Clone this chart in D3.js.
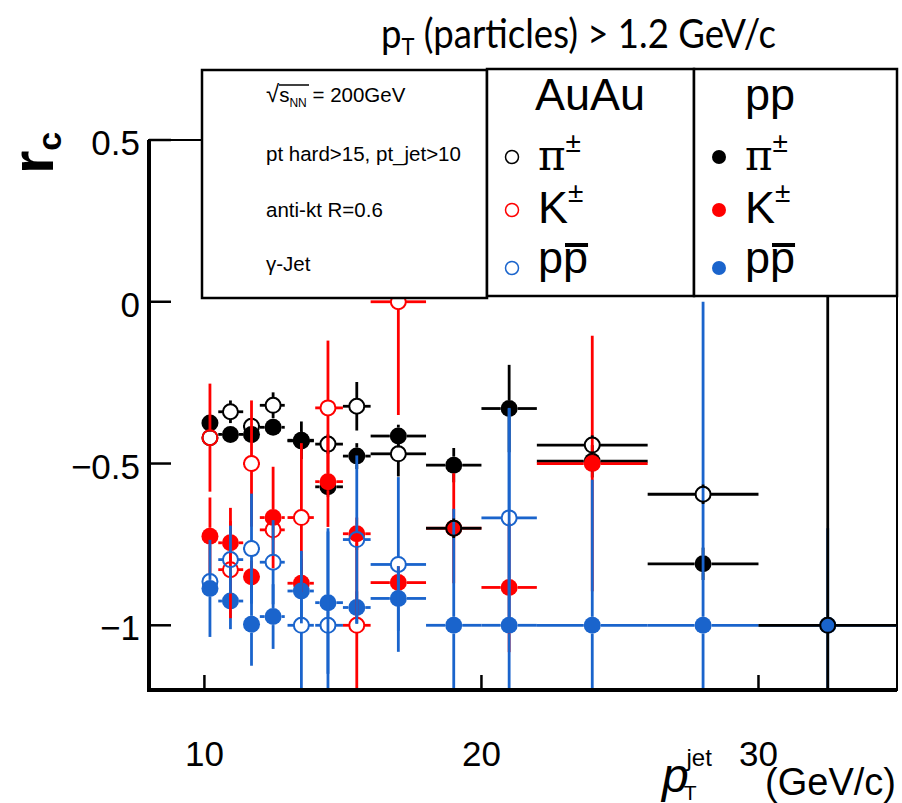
<!DOCTYPE html>
<html><head><meta charset="utf-8">
<script src="https://cdn.jsdelivr.net/npm/d3@7"></script>
<style>body{margin:0;background:#fff}</style>
</head><body><svg id="c" width="902" height="803"></svg>
<script>
// ---- data ----
const binX  = [10.2, 10.94, 11.7, 12.48, 13.5, 14.46, 15.5, 17, 19, 21, 24, 28, 32.5];
const binLo = [10.0, 10.5, 11.4, 12.0, 13.0, 14.0, 15.0, 16, 18, 20, 22, 26, 30];
const binHi = [10.4, 11.4, 12.0, 12.9, 13.95, 15.0, 16.0, 18, 20, 22, 26, 30, 35];

const ppPi    = [-0.375, -0.41, -0.41, -0.388, -0.428, -0.572, -0.477, -0.415, -0.505, -0.33, -0.493, -0.81, null];
const ppPiErr = [0.02, 0.02, 0.02, 0.02, 0.058, 0.03, 0.04, 0.035, 0.053, 0.135, 0.05, 0.05, null];
const ppK     = [-0.725, -0.745, -0.85, -0.667, -0.87, -0.556, -0.717, -0.868, -0.70, -0.883, -0.50, null, null];
const ppKErr  = [0.12, 0.108, 0.05, 0.157, 0.05, 0.14, 0.05, 0.05, 0.17, 0.2, 0.395, null, null];
const ppP     = [-0.886, -0.925, -0.997, -0.973, -0.894, -0.93, -0.945, -0.917, -1.0, -1.0, -1.0, -1.0, -1.0];
const ppPErr  = [0.15, 0.087, 0.128, 0.10, 0.10, 0.22, 0.05, 0.1, 0.36, 0.67, 0.45, 1.0, 0.3];

const auPi    = [-0.42, -0.34, -0.385, -0.32, -0.43, -0.44, -0.323, -0.47, -0.70, null, -0.443, -0.595, -1.0];
const auPiErr = [0.02, 0.035, 0.02, 0.04, 0.03, 0.03, 0.075, 0.07, 0.03, null, 0.03, 0.03, 1.6];
const auK     = [-0.42, -0.828, -0.50, -0.705, -0.667, -0.328, -1.0, 0.0, null, null, null, null, null];
const auKErr  = [0.167, 0.15, 0.195, 0.03, 0.23, 0.208, 0.3, 0.35, null, null, null, null, null];
const auP     = [-0.865, -0.797, -0.763, -0.805, -1.0, -1.0, -0.735, -0.812, null, -0.668, null, null, null];
const auPErr  = [0.02, 0.105, 0.17, 0.13, 0.23, 0.3, 0.26, 0.27, null, 0.34, null, null, null];

const xTicks = [10, 20, 30];
const yTicks = [0.5, 0, -0.5, -1];
const yTickLabels = ["0.5", "0", "\u22120.5", "\u22121"];

const BLACK = "#000", RED = "#ff0000", BLUE = "#1a64cc";

// ---- scales ----
const svg = d3.select("#c");
svg.append("rect").attr("width", 902).attr("height", 803).attr("fill", "#fff");
const x = d3.scaleLinear().domain([8, 35]).range([149, 897]);
const y = d3.scaleLinear().domain([-1.2, 0.5]).range([690, 140]);

const SANS = "'Liberation Sans', Arial, Helvetica, sans-serif";

svg.append("defs").append("clipPath").attr("id", "plotclip")
  .append("rect").attr("x", x(8)).attr("y", y(0.5)).attr("width", x(35) - x(8)).attr("height", y(-1.2) - y(0.5));

// frame
svg.append("rect").attr("x", x(8)).attr("y", y(0.5)).attr("width", x(35) - x(8)).attr("height", y(-1.2) - y(0.5))
  .attr("fill", "none").attr("stroke", "#000").attr("stroke-width", 2);

const data = svg.append("g").attr("clip-path", "url(#plotclip)");

function drawSeries(vals, errs, color, filled) {
  const g = data.append("g");
  const r = filled ? 8.5 : 7.5;
  binX.forEach((bx, i) => {
    const v = vals[i];
    if (v == null) return;
    const e = errs[i] || 0;
    const cx = x(bx), cy = y(v);
    const yt = y(v + e), yb = y(v - e);
    const xl = x(binLo[i]), xr = x(binHi[i]);
    const seg = (x1, y1, x2, y2) => g.append("line").attr("x1", x1).attr("y1", y1).attr("x2", x2).attr("y2", y2)
      .attr("stroke", color).attr("stroke-width", 2.8);
    if (cy - r > yt) seg(cx, yt, cx, cy - r);
    if (yb > cy + r) seg(cx, cy + r, cx, yb);
    if (cx - r > xl) seg(xl, cy, cx - r, cy);
    if (xr > cx + r) seg(cx + r, cy, xr, cy);
    if (filled) {
      g.append("circle").attr("cx", cx).attr("cy", cy).attr("r", r).attr("fill", color);
    } else {
      g.append("circle").attr("cx", cx).attr("cy", cy).attr("r", r).attr("fill", "none")
        .attr("stroke", color).attr("stroke-width", 2);
    }
  });
}

drawSeries(ppPi, ppPiErr, BLACK, true);
drawSeries(ppK, ppKErr, RED, true);
drawSeries(ppP, ppPErr, BLUE, true);
drawSeries(auPi, auPiErr, BLACK, false);
drawSeries(auK, auKErr, RED, false);
drawSeries(auP, auPErr, BLUE, false);

// axes
svg.append("line").attr("x1", x(8)).attr("x2", x(8)).attr("y1", y(0.5)).attr("y2", y(-1.2) + 2)
  .attr("stroke", "#000").attr("stroke-width", 4);
svg.append("line").attr("x1", x(8) - 2).attr("x2", x(35)).attr("y1", y(-1.2)).attr("y2", y(-1.2))
  .attr("stroke", "#000").attr("stroke-width", 4);

yTicks.forEach((t, i) => {
  svg.append("line").attr("x1", x(8)).attr("x2", x(8) + 22).attr("y1", y(t)).attr("y2", y(t))
    .attr("stroke", "#000").attr("stroke-width", 2.5);
  svg.append("text").attr("x", 140).attr("y", y(t) + 15).attr("text-anchor", "end")
    .attr("font-family", SANS).attr("font-size", 35).text(yTickLabels[i]);
});
xTicks.forEach(t => {
  svg.append("line").attr("x1", x(t)).attr("x2", x(t)).attr("y1", y(-1.2)).attr("y2", y(-1.2) - 15)
    .attr("stroke", "#000").attr("stroke-width", 2.5);
  svg.append("text").attr("x", x(t)).attr("y", 766).attr("text-anchor", "middle")
    .attr("font-family", SANS).attr("font-size", 35).text(String(t));
});

// y title r_c
const yt = svg.append("text").attr("transform", "translate(53,174) rotate(-90)")
  .attr("font-family", SANS).attr("font-weight", "bold").attr("font-size", 60);
yt.append("tspan").text("r");
yt.append("tspan").attr("font-size", 34).attr("font-weight", "bold").attr("dy", 8).text("c");

// x title (single text element)
const xt = svg.append("text").attr("x", 662).attr("y", 792).attr("font-family", SANS);
xt.append("tspan").attr("font-style", "italic").attr("font-size", 48).text("p");
xt.append("tspan").attr("font-size", 21).attr("dx", -5).attr("dy", 8).text("T");
xt.append("tspan").attr("font-size", 24).attr("dx", -10).attr("dy", -34).text("jet");
xt.append("tspan").attr("font-size", 38).attr("x", 896).attr("text-anchor", "end").attr("dy", 29).text("(GeV/c)");

// title
const tt = svg.append("text").attr("x", 381).attr("y", 48)
  .attr("font-family", "Lato, 'Open Sans', sans-serif").attr("font-size", 40)
  .attr("textLength", 395).attr("lengthAdjust", "spacingAndGlyphs");
tt.append("tspan").text("p");
tt.append("tspan").attr("font-size", 24).attr("dy", 7).text("T");
tt.append("tspan").attr("dy", -7).text(" (particles) > 1.2 GeV/c");

// legend boxes
const boxStyle = sel => sel.attr("fill", "#fff").attr("stroke", "#000").attr("stroke-width", 2.5);
svg.append("rect").attr("x", 202).attr("y", 70).attr("width", 285).attr("height", 228).call(boxStyle);
svg.append("rect").attr("x", 487).attr("y", 69).attr("width", 207).attr("height", 227).call(boxStyle);
svg.append("rect").attr("x", 694).attr("y", 69).attr("width", 203).attr("height", 227).call(boxStyle);

// info text
const infoLines = ["pt hard>15, pt_jet>10", "anti-kt R=0.6", "\u03b3-Jet"];
const l1 = svg.append("text").attr("x", 266).attr("y", 102).attr("font-family", SANS).attr("font-size", 20.5);
l1.append("tspan").attr("font-size", 24).text("\u221a");
l1.append("tspan").text("s");
l1.append("tspan").attr("font-size", 12).attr("dy", 5).text("NN");
l1.append("tspan").attr("dy", -5).text(" = 200GeV");
svg.append("line").attr("x1", 279).attr("x2", 309).attr("y1", 85).attr("y2", 85).attr("stroke", "#000").attr("stroke-width", 1.5);
[161, 217, 271].forEach((by, i) => {
  svg.append("text").attr("x", 266).attr("y", by).attr("font-family", SANS).attr("font-size", 20.5).text(infoLines[i]);
});

// legend entries
const legendCols = [
  {x0: 487, header: "AuAu", hx: 535, filled: false},
  {x0: 694, header: "pp", hx: 745, filled: true}
];
const legendRows = [
  {color: BLACK, label: "pi", my: 157, base: 170},
  {color: RED, label: "K", my: 210, base: 223},
  {color: BLUE, label: "p", my: 268, base: 273}
];
legendCols.forEach(col => {
  svg.append("text").attr("x", col.hx).attr("y", 110).attr("font-family", SANS).attr("font-size", 45).text(col.header);
  const mx = col.x0 + 25, lx = col.x0 + 51;
  legendRows.forEach(row => {
    if (col.filled) {
      svg.append("circle").attr("cx", mx).attr("cy", row.my).attr("r", 7).attr("fill", row.color);
    } else {
      svg.append("circle").attr("cx", mx).attr("cy", row.my).attr("r", 6.5).attr("fill", "none")
        .attr("stroke", row.color).attr("stroke-width", 1.5);
    }
    const t = svg.append("text").attr("x", lx).attr("y", row.base).attr("font-family", SANS).attr("font-size", 45);
    if (row.label === "pi") {
      t.append("tspan").attr("font-family", "'DejaVu Serif', 'Liberation Serif', serif").attr("font-size", 42).text("\u03c0");
      t.append("tspan").attr("font-size", 28).attr("dy", -18).text("\u00b1");
    } else if (row.label === "K") {
      t.append("tspan").text("K");
      t.append("tspan").attr("font-size", 28).attr("dy", -21).text("\u00b1");
    } else {
      t.append("tspan").text("p");
      t.append("tspan").text("p");
      const w1 = 0.556 * 45;
      svg.append("line").attr("x1", lx + w1 + 2).attr("x2", lx + 2 * w1).attr("y1", row.base - 28).attr("y2", row.base - 28)
        .attr("stroke", "#000").attr("stroke-width", 4);
    }
  });
});
</script>
</body></html>
